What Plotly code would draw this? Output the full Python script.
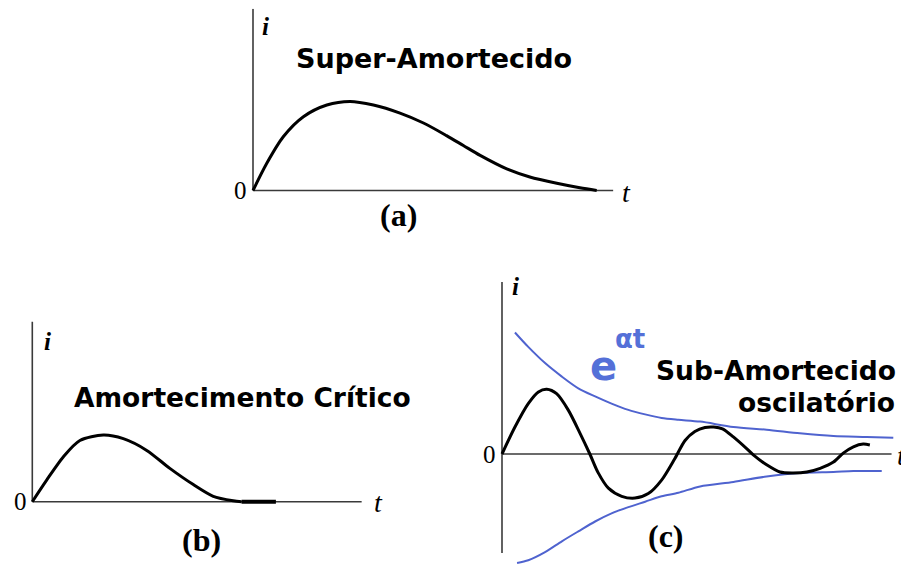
import plotly.graph_objects as go

# ---- data (t in arbitrary units, i normalised) ----
# (a) super-amortecido
t_a = [0, 0.39, 0.87, 1.44, 2.11, 2.77, 3.44, 4.2, 4.87, 5.53, 6.01, 6.49, 7.25, 7.91, 8.68, 9.34, 9.82]
i_a = [0, 0.30, 0.60, 0.82, 0.95, 0.99, 0.95, 0.86, 0.75, 0.61, 0.50, 0.39, 0.24, 0.15, 0.08, 0.03, 0.0]

# (b) amortecimento critico
t_b = [0, 0.41, 0.89, 1.36, 2.03, 2.6, 3.27, 3.93, 4.6, 5.17, 5.74, 5.98]
i_b = [0, 0.24, 0.50, 0.68, 0.74, 0.70, 0.57, 0.37, 0.19, 0.06, 0.01, 0.0]
t_b_tail = [5.98, 6.96]
i_b_tail = [0.0, 0.0]

# (c) sub-amortecido
t_c = [0, 0.37, 0.75, 1.04, 1.28, 1.56, 1.89, 2.23, 2.51, 2.75, 3.04, 3.42, 3.8, 4.18,
       4.56, 4.94, 5.23, 5.51, 5.8, 6.05, 6.3, 6.61, 6.99, 7.18, 7.56, 7.94, 8.32, 8.71,
       9.09, 9.47, 9.75, 10.04, 10.32, 10.51]
i_c = [0, 0.30, 0.56, 0.69, 0.72, 0.67, 0.49, 0.23, 0.0, -0.21, -0.38, -0.47, -0.49, -0.44,
       -0.29, -0.05, 0.15, 0.25, 0.295, 0.30, 0.28, 0.19, 0.06, -0.01, -0.12, -0.20, -0.21, -0.20,
       -0.16, -0.09, 0.01, 0.08, 0.11, 0.10]
t_env_up = [0.37, 0.75, 1.23, 1.71, 2.18, 2.66, 3.13, 3.61, 4.09, 4.56, 5.04, 5.66, 6.61, 7.56, 8.51, 9.47, 10.42, 11.18]
i_env_up = [1.35, 1.19, 1.01, 0.86, 0.73, 0.64, 0.56, 0.49, 0.44, 0.40, 0.38, 0.36, 0.30, 0.27, 0.23, 0.20, 0.19, 0.18]
t_env_dn = [0.43, 0.75, 1.23, 1.71, 2.18, 2.66, 3.13, 3.61, 4.09, 4.56, 5.04, 5.66, 6.61, 7.56, 8.51, 9.47, 10.04, 10.85]
i_env_dn = [-1.21, -1.18, -1.09, -0.97, -0.86, -0.75, -0.66, -0.59, -0.53, -0.47, -0.43, -0.36, -0.31, -0.25, -0.21, -0.20, -0.19, -0.19]

W, H = 909, 567
OFF = 8                    # page body margin: figure origin sits at (8, 8) on the page
PX_T, PX_I = 35.0, 90.0    # pixels per unit along t and i

# panel layout: origin in page pixels, axis ranges, axis line extents
panels = {
    "a": dict(ox=253, oy=190.5, xr=[-0.1, 10.5], yr=[-0.1, 2.02], tend=10.29, ibot=0, itop=2.02),
    "b": dict(ox=32.3, oy=501.7, xr=[-0.1, 9.6], yr=[-0.1, 2.1], tend=9.41, ibot=0, itop=2.0),
    "c": dict(ox=502, oy=454, xr=[-0.1, 11.3], yr=[-1.25, 2.0], tend=11.13, ibot=-1.10, itop=1.91),
}

AXIS_COLOR = "#3a3a3a"
BLUE = "#4f63cf"
BLUE_TXT = "#5470d8"

fig = go.Figure()

refs = {"a": ("x", "y"), "b": ("x2", "y2"), "c": ("x3", "y3")}

spl = dict(shape="spline", smoothing=0.8)
fig.add_trace(go.Scatter(x=t_a, y=i_a, mode="lines", line=dict(color="black", width=3, **spl),
                         xaxis="x", yaxis="y"))
fig.add_trace(go.Scatter(x=t_b, y=i_b, mode="lines", line=dict(color="black", width=3, **spl),
                         xaxis="x2", yaxis="y2"))
fig.add_trace(go.Scatter(x=t_b_tail, y=i_b_tail, mode="lines", line=dict(color="black", width=4),
                         xaxis="x2", yaxis="y2"))
fig.add_trace(go.Scatter(x=t_env_up, y=i_env_up, mode="lines", line=dict(color=BLUE, width=2, **spl),
                         xaxis="x3", yaxis="y3"))
fig.add_trace(go.Scatter(x=t_env_dn, y=i_env_dn, mode="lines", line=dict(color=BLUE, width=2, **spl),
                         xaxis="x3", yaxis="y3"))
fig.add_trace(go.Scatter(x=t_c, y=i_c, mode="lines", line=dict(color="black", width=3, **spl),
                         xaxis="x3", yaxis="y3"))

layout = dict(width=W, height=H, margin=dict(l=0, r=0, t=0, b=0),
              paper_bgcolor="white", plot_bgcolor="rgba(0,0,0,0)", showlegend=False)


def clamp(v):
    return min(1.0, max(0.0, v))


shapes = []
for k, p in panels.items():
    ox, oy = p["ox"] - OFF, p["oy"] - OFF
    xd = [clamp((ox + p["xr"][0] * PX_T) / W), clamp((ox + p["xr"][1] * PX_T) / W)]
    yd = [clamp(1 - (oy - p["yr"][0] * PX_I) / H), clamp(1 - (oy - p["yr"][1] * PX_I) / H)]
    xa, ya = refs[k]
    xname = "xaxis" if xa == "x" else "xaxis" + xa[1:]
    yname = "yaxis" if ya == "y" else "yaxis" + ya[1:]
    layout[xname] = dict(domain=xd, range=p["xr"], visible=False, anchor=ya)
    layout[yname] = dict(domain=yd, range=p["yr"], visible=False, anchor=xa)
    # the t axis and the i axis
    shapes.append(dict(type="line", xref=xa, yref=ya, x0=0, x1=p["tend"], y0=0, y1=0,
                       line=dict(color=AXIS_COLOR, width=1.6), layer="below"))
    shapes.append(dict(type="line", xref=xa, yref=ya, x0=0, x1=0, y0=p["ibot"], y1=p["itop"],
                       line=dict(color=AXIS_COLOR, width=1.6), layer="below"))
layout["shapes"] = shapes
fig.update_layout(**layout)

SERIF = "Liberation Serif"
SANS = "DejaVu Sans"


def note(xp, yp, text, size, family, color="black", weight="normal", style="normal"):
    # position given in page pixels of the reference picture
    fig.add_annotation(x=(xp - OFF) / W, y=1 - (yp - OFF) / H, xref="paper", yref="paper",
                       text=text, showarrow=False, xanchor="center", yanchor="middle",
                       font=dict(size=size, family=family, color=color, weight=weight, style=style))


# panel (a)
note(265, 26, "i", 25, SERIF, weight="bold", style="italic")
note(241, 190, "0", 25, SERIF)
note(626, 193, "t", 28, SERIF, style="italic")
note(434, 58, "Super-Amortecido", 27, SANS, weight="bold")
note(398, 215, "(a)", 32, SERIF, weight="bold")

# panel (b)
note(47, 341, "i", 25, SERIF, weight="bold", style="italic")
note(20, 501, "0", 25, SERIF)
note(378, 502, "t", 28, SERIF, style="italic")
note(242, 397, "Amortecimento Crítico", 26.5, SANS, weight="bold")
note(201, 540, "(b)", 32, SERIF, weight="bold")

# panel (c)
note(515, 286, "i", 25, SERIF, weight="bold", style="italic")
note(489, 454, "0", 25, SERIF)
note(901, 455, "t", 28, SERIF, style="italic")
note(776, 370, "Sub-Amortecido", 26.5, SANS, weight="bold")
note(816, 402, "oscilatório", 26.5, SANS, weight="bold")
note(603, 366, "e", 40, SANS, color=BLUE_TXT, weight="bold")
note(630, 339, "αt", 26, SANS, color=BLUE_TXT, weight="bold")
note(666, 536, "(c)", 32, SERIF, weight="bold")

fig.write_html("out.html")
